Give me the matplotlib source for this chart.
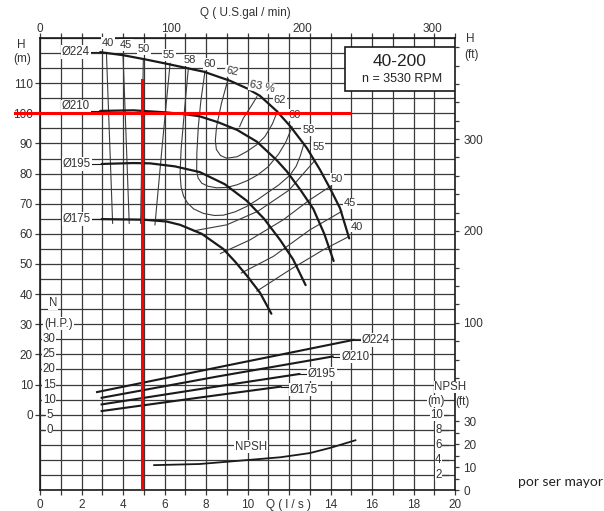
import numpy as np
import matplotlib
matplotlib.use("Agg")
import matplotlib.pyplot as plt
from matplotlib.patches import Rectangle
from matplotlib.ticker import FixedLocator, FixedFormatter

plt.rcParams['font.family'] = ['Liberation Sans', 'DejaVu Sans']

W, HP_ = 604, 511

# ---------------- head curves: Q (l/s) -> H (m)
q_224 = [2.9, 4.0, 5.0, 6.0, 6.75, 7.9, 9.16, 10.0, 10.6, 11.4, 12.05, 12.85, 13.5, 14.0, 14.46, 14.9]
h_224 = [120.3, 119.3, 118.0, 116.6, 115.5, 113.8, 110.8, 108.2, 105.8, 100.8, 95.8, 88.6, 81.2, 74.8, 68.5, 58.5]
q_210 = [2.9, 4.5, 6.1, 7.0, 7.7, 8.6, 9.5, 10.45, 11.4, 11.9, 12.55, 13.17, 13.7, 14.15]
h_210 = [100.8, 101.0, 100.3, 99.7, 99.0, 97.0, 94.5, 90.6, 84.5, 80.7, 74.6, 68.3, 60.0, 51.0]
q_195 = [2.97, 4.5, 5.3, 6.5, 7.7, 8.9, 9.96, 10.8, 11.57, 12.2, 12.8]
h_195 = [83.2, 83.5, 83.4, 82.4, 80.5, 76.5, 71.0, 65.0, 58.0, 51.5, 43.0]
q_175 = [2.97, 5.0, 6.1, 6.75, 7.8, 8.83, 9.4, 9.96, 10.6, 11.15]
h_175 = [64.9, 64.7, 64.1, 63.0, 60.0, 55.0, 50.8, 46.2, 40.5, 33.5]
diameters = ["Ø224", "Ø210", "Ø195", "Ø175"]

# ---------------- iso-efficiency lines (%)
e40_l_q = [3.2, 3.35, 3.5];   e40_l_h = [120.2, 92.0, 63.5]
e40_r_q = [10.45, 12.05, 13.65, 14.85]; e40_r_h = [41.0, 48.1, 54.7, 59.0]
e45_l_q = [4.0, 4.15, 4.3];   e45_l_h = [119.5, 92.0, 63.5]
e45_r_q = [9.7, 11.24, 13.0, 14.55];    e45_r_h = [47.0, 52.5, 61.3, 67.5]
e50_l_q = [4.98, 4.92, 4.85]; e50_l_h = [118.1, 92.0, 63.5]
e50_r_q = [8.7, 10.12, 11.73, 13.0, 14.05]; e50_r_h = [53.5, 58.0, 64.7, 71.3, 76.0]
e55_l_q = [6.27, 5.9, 5.54];  e55_l_h = [116.6, 90.0, 63.0]
e55_r_q = [7.4, 9.0, 10.5, 12.0, 13.2]; e55_r_h = [61.0, 63.0, 67.5, 74.5, 84.0]
e58_q = [7.15, 6.95, 6.8, 6.75, 6.8, 6.92, 7.1, 7.4, 7.87, 8.4, 8.83, 9.4, 9.96, 10.45,
         10.93, 11.5, 12.05, 12.35, 12.55, 12.7]
e58_h = [115.0, 100.0, 88.0, 80.0, 75.5, 72.5, 70.3, 68.3, 66.8, 66.1, 66.2, 67.3, 69.1,
         71.2, 73.5, 76.2, 79.5, 82.5, 86.0, 89.5]
e60_q = [7.95, 7.75, 7.63, 7.56, 7.55, 7.62, 7.8, 8.1, 8.5, 9.0, 9.5, 10.0, 10.5, 11.0,
         11.5, 11.85, 12.15]
e60_h = [114.0, 104.0, 95.6, 87.0, 81.0, 78.5, 76.8, 75.8, 75.3, 75.4, 76.3, 77.7, 79.6,
         82.3, 86.5, 90.5, 95.5]
e62_q = [9.07, 8.75, 8.51, 8.45, 8.5, 8.7, 9.0, 9.5, 9.96, 10.45, 10.84, 11.2, 11.45]
e62_h = [111.5, 103.5, 95.6, 91.0, 88.0, 86.0, 85.1, 85.6, 87.3, 89.6, 92.3, 96.5, 100.8]
e63_q = [10.45, 10.25, 10.0, 9.8, 9.62]
e63_h = [105.5, 103.2, 100.5, 98.4, 95.6]
eff_left_labels = ["40", "45", "50", "55", "58", "60", "62", "63 %"]
eff_right_labels = ["62", "60", "58", "55", "50", "45", "40"]

# ---------------- absorbed power: Q (l/s) -> N (HP)
q_p224 = [2.75, 9.0, 15.1];  n_p224 = [12.5, 21.3, 29.8]
q_p210 = [2.97, 8.5, 14.1];  n_p210 = [10.6, 17.6, 24.3]
q_p195 = [2.97, 8.0, 12.5];  n_p195 = [8.4, 13.8, 18.5]
q_p175 = [2.97, 7.5, 11.6];  n_p175 = [6.2, 10.5, 14.3]

# ---------------- NPSH required: Q (l/s) -> NPSH (m)
q_npsh = [5.5, 7.7, 10.1, 11.6, 13.0, 14.0, 15.2]
m_npsh = [3.3, 3.45, 4.0, 4.35, 4.9, 5.6, 6.6]

# ---------------- duty point
duty_head = 100.0
duty_flow = 4.9

# axis tick values
q_ticks = list(range(0, 21, 2))
h_ticks = list(range(0, 111, 10))
gpm_ticks = [0, 100, 200, 300]
ft_ticks = [100, 200, 300]
hp_ticks = [0, 5, 10, 15, 20, 25, 30]
npsh_m_ticks = [2, 4, 6, 8, 10]
npsh_ft_ticks = [0, 10, 20, 30]


def hp_to_h(n):
    return np.asarray(n) - 5.0


def npsh_to_h(m):
    return np.asarray(m) * 2.5 - 25.0


LPS_TO_GPM = 15.8503
M_TO_FT = 3.28084

fig = plt.figure(figsize=(W / 100, HP_ / 100), dpi=100)
ax = fig.add_axes([40 / W, 21 / HP_, 415 / W, 452 / HP_])
ax.set_xlim(0, 20)
ax.set_ylim(-25, 125)
ax.set_axisbelow(True)

grid_col = '#3a3a3a'
ink = '#1a1a1a'
txt = '#333333'

ax.xaxis.set_major_locator(FixedLocator(q_ticks))
ax.xaxis.set_minor_locator(FixedLocator([v for v in range(0, 21) if v not in q_ticks]))
ax.xaxis.set_major_formatter(FixedFormatter(
    ["Q ( l / s )" if v == 12 else str(v) for v in q_ticks]))
ax.yaxis.set_major_locator(FixedLocator(h_ticks))
ax.yaxis.set_minor_locator(FixedLocator([v for v in range(-25, 126, 5) if v not in h_ticks]))
ax.grid(which='both', color=grid_col, lw=0.9)
ax.tick_params(axis='x', which='both', top=True, bottom=True, direction='out',
               length=3.5, width=0.9, color=grid_col, labelsize=8.5, labelcolor=txt, pad=3)
ax.tick_params(axis='y', which='major', length=3.6, width=0.9, color=grid_col,
               labelsize=8.5, labelcolor=txt, pad=1.5)
ax.tick_params(axis='y', which='minor', length=0)
for s in ax.spines.values():
    s.set_linewidth(1.2)
    s.set_color(ink)

# top scale: US gal/min
top = ax.secondary_xaxis('top', functions=(lambda q: q * LPS_TO_GPM, lambda g: g / LPS_TO_GPM))
top.set_xticks(gpm_ticks)
top.tick_params(length=0, labelsize=8.5, labelcolor=txt, pad=2.5)
top.spines['top'].set_visible(False)

# right scale: head in feet
rft = ax.secondary_yaxis('right', functions=(lambda h: h * M_TO_FT, lambda f: f / M_TO_FT))
rft.set_yticks(ft_ticks)
rft.yaxis.set_minor_locator(FixedLocator([v for v in range(40, 401, 20) if v not in ft_ticks]))
rft.tick_params(which='both', length=3, width=0.9, color=grid_col, labelsize=8.5,
                labelcolor=txt, pad=3)
rft.spines['right'].set_visible(False)

# right scale: NPSH in feet
rnp = ax.secondary_yaxis('right', functions=(lambda h: (h + 25.0) / 2.5 * M_TO_FT,
                                             lambda f: f / M_TO_FT * 2.5 - 25.0))
rnp.set_yticks(npsh_ft_ticks)
rnp.yaxis.set_minor_locator(FixedLocator([5, 15, 25]))
rnp.tick_params(which='both', length=3, width=0.9, color=grid_col, labelsize=8.5,
                labelcolor=txt, pad=3)
rnp.spines['right'].set_visible(False)


def px(x, y):
    return x / W, 1 - y / HP_


def ftext(x, y, s, **kw):
    kw.setdefault('fontsize', 8.5)
    kw.setdefault('color', txt)
    kw.setdefault('ha', 'center')
    kw.setdefault('va', 'center')
    fig.text(*px(x, y), s, **kw)


def atext(x, y, s, **kw):
    # text placed in figure pixels but kept under the duty-point lines
    kw.setdefault('fontsize', 8)
    kw.setdefault('color', txt)
    kw.setdefault('ha', 'center')
    kw.setdefault('va', 'center')
    ax.text(*px(x, y), s, transform=fig.transFigure, zorder=5, clip_on=False, **kw)


white = dict(fc='white', ec='none', pad=0.6)

# ---------------- head curves
head_curves = [(q_224, h_224), (q_210, h_210), (q_195, h_195), (q_175, h_175)]
for (q, h), name in zip(head_curves, diameters):
    ax.plot(q, h, color=ink, lw=1.6, zorder=4, solid_capstyle='round', solid_joinstyle='round')
    ax.plot([q[0] - 0.45, q[0]], [h[0], h[0]], color=ink, lw=0.8, zorder=4)
    ax.text(q[0] - 0.5, h[0] + (1.5 if name == "Ø210" else 0.0), name, ha='right',
            va='center', fontsize=8.3, color=txt, bbox=white, zorder=5)

# ---------------- efficiency lines
eff_lines = [(e40_l_q, e40_l_h), (e40_r_q, e40_r_h), (e45_l_q, e45_l_h), (e45_r_q, e45_r_h),
             (e50_l_q, e50_l_h), (e50_r_q, e50_r_h), (e55_l_q, e55_l_h), (e55_r_q, e55_r_h),
             (e58_q, e58_h), (e60_q, e60_h), (e62_q, e62_h), (e63_q, e63_h)]
for q, h in eff_lines:
    ax.plot(q, h, color='#3c3c3c', lw=0.8, zorder=3, solid_joinstyle='round')

left_pos = [(108, 43), (126, 45), (144, 49), (169, 55), (190, 60), (210, 64), (231.7, 71.7), (262, 87)]
for s, (x, y) in zip(eff_left_labels, left_pos):
    atext(x, y, s, bbox=white, rotation=-12 if s in ("62", "63 %") else 0)
right_pos = [(280, 100), (295, 115), (308.3, 130), (318.3, 146.7), (336.7, 179), (350, 203.3), (357.3, 226.7)]
for s, (x, y) in zip(eff_right_labels, right_pos):
    atext(x, y, s, bbox=white)

# ---------------- power curves
power_curves = [(q_p224, n_p224), (q_p210, n_p210), (q_p195, n_p195), (q_p175, n_p175)]
for (q, n), name in zip(power_curves, diameters):
    hh = hp_to_h(n)
    ax.plot(q, hh, color=ink, lw=1.5, zorder=4)
    ax.plot([q[-1], q[-1] + 0.4], [hh[-1], hh[-1]], color=ink, lw=0.8, zorder=4)
    ax.text(q[-1] + 0.42, hh[-1] - (1.0 if name == "Ø175" else 0.0), name, ha='left',
            va='center', fontsize=8.3, color=txt, bbox=white, zorder=5)

# ---------------- NPSH curve
ax.plot(q_npsh, npsh_to_h(m_npsh), color=ink, lw=1.3, zorder=4)
atext(251, 446.5, "NPSH", fontsize=8.3, bbox=white)

# ---------------- duty point cross
ax.plot([-1.2, 14.95], [duty_head, duty_head], color='#ff0000', lw=2.2, zorder=6, clip_on=False)
ax.plot([duty_flow, duty_flow], [-24.3, 111.0], color='#ff0000', lw=2.2, zorder=6, clip_on=False)

# ---------------- model box
ax.add_patch(Rectangle(((345 - 40) / 415, (490 - 91) / 452), 110 / 415, 44 / 452,
                       transform=ax.transAxes, fc='white', ec=ink, lw=1.2, zorder=7))
ftext(400, 61, "40-200", fontsize=12.5, color='#222222')
ftext(402, 79, "n = 3530 RPM", fontsize=9, color='#222222')

# ---------------- axis captions
ftext(245, 13, "Q ( U.S.gal / min)", fontsize=8.5)
ftext(21.7, 45, "H", fontsize=8.5)
ftext(21.7, 59, "(m)", fontsize=8.5)
ftext(470, 39, "H", fontsize=8.5)
ftext(471.7, 55, "(ft)", fontsize=8.5)

# power scale drawn inside the left edge
ftext(53.3, 303.3, "N", fontsize=8.3, bbox=white)
ftext(58.5, 323.5, "(H.P.)", fontsize=8.3, bbox=white)
for v in hp_ticks:
    hv = float(hp_to_h(v))
    ax.plot([0, 0.2], [hv, hv], color=grid_col, lw=0.9, zorder=4)
    ax.text(0.45, hv, str(v), ha='center', va='center', fontsize=8.3, color=txt,
            bbox=dict(fc='white', ec='none', pad=0.3), zorder=5)

# NPSH metre scale drawn inside the right edge
ftext(450, 387, "NPSH", fontsize=8.3, bbox=dict(fc='white', ec='none', pad=0.2))
ftext(435.5, 401, "(m)", fontsize=8.3, bbox=dict(fc='white', ec='none', pad=0.2))
ftext(462, 401.5, "(ft)", fontsize=8.3)
for v in npsh_m_ticks:
    hv = float(npsh_to_h(v))
    ax.plot([19.35, 19.65], [hv, hv], color=grid_col, lw=0.9, zorder=4)
    ax.text(19.13 if v == 10 else 19.2, hv, str(v), ha='center', va='center', fontsize=8.3,
            color=txt, bbox=dict(fc='white', ec='none', pad=0.3), zorder=5)

ftext(561, 482, "por ser mayor", fontsize=10, color='#222222', family=['Lato', 'DejaVu Sans'])

fig.savefig("out.png", dpi=100, facecolor='white')
